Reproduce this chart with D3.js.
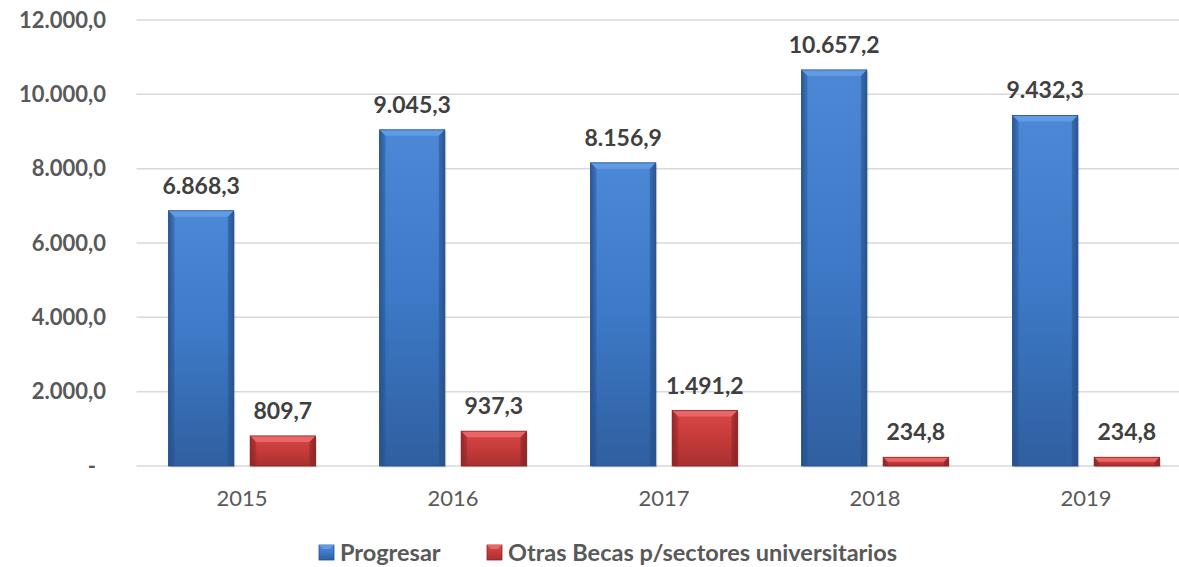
<!DOCTYPE html>
<html><head><meta charset="utf-8">
<script src="https://cdn.jsdelivr.net/npm/d3@7"></script>
<style>body{margin:0;background:#fff}svg{display:block;font-family:Lato,"Open Sans",sans-serif}</style>
</head><body><svg id="c" width="1179" height="567"></svg>
<script>
const years = ["2015","2016","2017","2018","2019"];
const progresar = [6868.3, 9045.3, 8156.9, 10657.2, 9432.3];
const otras = [809.7, 937.3, 1491.2, 234.8, 234.8];
const seriesNames = ["Progresar","Otras Becas p/sectores universitarios"];
const yTicks = [0,2000,4000,6000,8000,10000,12000];

const svg = d3.select("#c");
const loc = d3.formatLocale({decimal:",",thousands:".",grouping:[3],currency:["",""]});
const fmt = loc.format(",.1f");

const y = d3.scaleLinear().domain([0,12000]).range([466,20]);
const x0 = d3.scaleBand().domain(years).range([136.5,1191.5]).paddingInner(0).paddingOuter(0);
const x1 = d3.scaleBand().domain([0,1]).range([32,32+147]).paddingInner(0.2).paddingOuter(0);

const defs = svg.append("defs");
const pal = [
  {id:"b", top:"#4c88d6", mid:"#3d79c7", bot:"#2f5f9f", edge:"#25508a", bevel:"#619be4"},
  {id:"r", top:"#d94848", mid:"#c63a3a", bot:"#a83030", edge:"#8a2424", bevel:"#ea6666"}
];
pal.forEach(p=>{
  const g = defs.append("linearGradient").attr("id","g"+p.id).attr("x1",0).attr("x2",0).attr("y1",0).attr("y2",1);
  g.append("stop").attr("offset","0").attr("stop-color",p.top);
  g.append("stop").attr("offset","0.5").attr("stop-color",p.mid);
  g.append("stop").attr("offset","1").attr("stop-color",p.bot);
  const h = defs.append("linearGradient").attr("id","h"+p.id).attr("x1",0).attr("x2",1).attr("y1",0).attr("y2",0);
  h.append("stop").attr("offset","0").attr("stop-color",p.edge).attr("stop-opacity",0.8);
  h.append("stop").attr("offset","0.1").attr("stop-color",p.edge).attr("stop-opacity",0);
  h.append("stop").attr("offset","0.9").attr("stop-color",p.edge).attr("stop-opacity",0);
  h.append("stop").attr("offset","1").attr("stop-color",p.edge).attr("stop-opacity",0.8);
});

// gridlines
svg.append("g").selectAll("line").data(yTicks).join("line")
  .attr("x1",136.5).attr("x2",1179).attr("y1",d=>y(d)).attr("y2",d=>y(d))
  .attr("stroke","#d9d9d9").attr("stroke-width",1.5);

// y labels
svg.append("g").selectAll("text").data(yTicks).join("text")
  .attr("x",d=>d===0?96:106).attr("y",d=>y(d)).attr("dy","0.35em")
  .attr("text-anchor","end").attr("font-weight","bold").attr("font-size",22)
  .attr("fill","#595959").text(d=>d===0?"-":fmt(d));

// x labels
svg.append("g").selectAll("text").data(years).join("text")
  .attr("x",d=>x0(d)+x0.bandwidth()/2).attr("y",506)
  .attr("text-anchor","middle").attr("font-size",22).attr("fill","#595959").text(d=>d);

const series = [progresar, otras];
series.forEach((vals,si)=>{
  const p = pal[si];
  const g = svg.append("g");
  const data = years.map((yr,i)=>({yr,v:vals[i]}));
  const grp = g.selectAll("g").data(data).join("g")
    .attr("transform",d=>`translate(${x0(d.yr)+x1(si)},0)`);
  const w = x1.bandwidth();
  grp.append("rect").attr("x",1.5).attr("y",d=>y(d.v)+1.5).attr("width",w).attr("height",d=>y(0)-y(d.v))
    .attr("fill","#000").attr("opacity",0.12);
  grp.append("rect").attr("x",0).attr("y",d=>y(d.v)).attr("width",w).attr("height",d=>y(0)-y(d.v))
    .attr("fill",`url(#g${p.id})`);
  grp.append("rect").attr("x",0).attr("y",d=>y(d.v)).attr("width",w).attr("height",d=>y(0)-y(d.v))
    .attr("fill",`url(#h${p.id})`);
  grp.append("path").attr("d",d=>{
      const t=y(d.v), h=Math.min(6,(y(0)-t)/2);
      return `M0,${t}L${w},${t}L${w-h},${t+h}L${h},${t+h}Z`;})
    .attr("fill",p.bevel);
  grp.append("path").attr("d",d=>{
      const t=y(d.v), h=Math.min(6,(y(0)-t)/2);
      return `M0,${t}L${h},${t+h}L${h},${y(0)}L0,${y(0)}Z`;})
    .attr("fill",p.edge).attr("opacity",0.3);
  grp.append("path").attr("d",d=>{
      const t=y(d.v), h=Math.min(6,(y(0)-t)/2);
      return `M${w},${t}L${w-h},${t+h}L${w-h},${y(0)}L${w},${y(0)}Z`;})
    .attr("fill",p.edge).attr("opacity",0.45);
  grp.append("rect").attr("x",0).attr("y",d=>y(d.v)).attr("width",w).attr("height",d=>y(0)-y(d.v))
    .attr("fill","none").attr("stroke",p.edge).attr("stroke-width",0.8);
  grp.append("text").attr("x",w/2).attr("y",d=>y(d.v)-17)
    .attr("text-anchor","middle").attr("font-weight","bold").attr("font-size",23)
    .attr("fill","#404040").text(d=>fmt(d.v));
});

// legend
const leg = svg.append("g");
const legX = [319, 487];
seriesNames.forEach((n,i)=>{
  const p = pal[i];
  const lg = leg.append("g").attr("transform",`translate(${legX[i]},545)`);
  lg.append("rect").attr("width",15).attr("height",15).attr("fill",`url(#g${p.id})`).attr("stroke",p.edge).attr("stroke-width",0.8);
  lg.append("path").attr("d","M0,0L15,0L11,4L4,4Z").attr("fill",p.bevel);
  lg.append("text").attr("x",21).attr("y",8).attr("dy","0.36em").attr("font-weight","bold")
    .attr("font-size",23.5).attr("fill","#595959").text(n);
});
</script></body></html>
